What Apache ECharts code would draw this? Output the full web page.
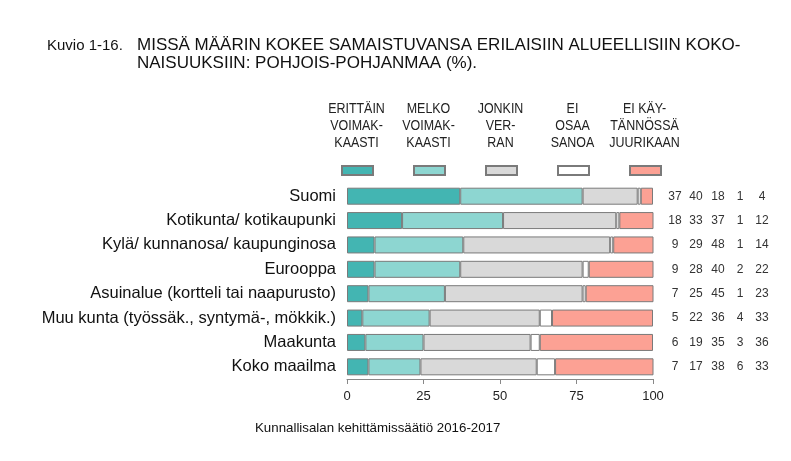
<!DOCTYPE html>
<html><head><meta charset="utf-8">
<script src="https://cdn.jsdelivr.net/npm/echarts@6/dist/echarts.min.js"></script>
<style>html,body{margin:0;padding:0;background:#fff}#c{width:791px;height:461px}</style>
</head><body><div id="c"></div>
<script>
const categories = ['Suomi','Kotikunta/ kotikaupunki','Kylä/ kunnanosa/ kaupunginosa','Eurooppa','Asuinalue (kortteli tai naapurusto)','Muu kunta (työssäk., syntymä-, mökkik.)','Maakunta','Koko maailma'];
// printed (rounded) percentages, shown in the value columns
const erittain = [37,18,9,9,7,5,6,7];
const melko = [40,33,29,28,25,22,19,17];
const jonkin = [18,37,48,40,45,36,35,38];
const eiOsaa = [1,1,1,2,1,4,3,6];
const eiKay = [4,12,14,22,23,33,36,33];
// last segment as drawn in the picture (Maakunta bar reaches 100 despite rounding)
const eiKayBar = [4,12,14,22,23,33,37,33];
const xTicks = [0,25,50,75,100];
const seriesNames = ['ERITTÄIN\nVOIMAK-\nKAASTI','MELKO\nVOIMAK-\nKAASTI','JONKIN\nVER-\nRAN','EI\nOSAA\nSANOA','EI KÄY-\nTÄNNÖSSÄ\nJUURIKAAN'];
const labelData = [erittain, melko, jonkin, eiOsaa, eiKay];
const barData = [erittain, melko, jonkin, eiOsaa, eiKayBar];
const colors = ['#43b5b2','#8dd6d1','#d9d9d9','#ffffff','#fca194'];

const FONT = 'Liberation Sans, Arial, sans-serif';
const legendLeft = 336, legendPad = 5, legendItemW = 31, legendGap = 39;
const legendStep = 72;

const chart = echarts.init(document.getElementById('c'), null, {renderer:'canvas'});
const rich = {};
['c0','c1','c2','c3','c4'].forEach((k,i)=>{ rich[k] = {width: i===0?20:22, align:'center', fontSize:12, color:'#333', fontFamily:FONT}; });

const graphics = [
  {type:'text', left:47, top:38, style:{text:'Kuvio 1-16.', font:'15px '+FONT, fill:'#111'}},
  {type:'text', left:137, top:36, style:{text:'MISSÄ MÄÄRIN KOKEE SAMAISTUVANSA ERILAISIIN ALUEELLISIIN KOKO-\nNAISUUKSIIN: POHJOIS-POHJANMAA (%).', font:'17px '+FONT, fill:'#111', lineHeight:18}},
  {type:'text', left:255, top:422, style:{text:'Kunnallisalan kehittämissäätiö 2016-2017', font:'13.3px '+FONT, fill:'#111'}}
];
seriesNames.forEach((n,i)=>{
  graphics.push({type:'text', x: legendLeft + legendPad + legendItemW/2 + i*legendStep, y:100, scaleX:0.83,
    style:{text:n, font:'15px '+FONT, fill:'#222', align:'center', verticalAlign:'top', lineHeight:17}});
});

chart.setOption({
  animation:false,
  graphic: graphics,
  legend: {
    data: seriesNames, left: legendLeft, top: 160, padding: legendPad, itemWidth: legendItemW, itemHeight: 9,
    itemGap: legendGap, formatter: () => '', icon:'rect', selectedMode:false
  },
  grid: {left:347, right:138, top:184, bottom:82, containLabel:false},
  xAxis: {
    type:'value', min:0, max:100, interval:25,
    axisLine:{show:true, lineStyle:{color:'#888'}},
    axisTick:{show:true, length:5, lineStyle:{color:'#888'}},
    splitLine:{show:false},
    axisLabel:{fontSize:13, color:'#222', fontFamily:FONT, margin:11,
      formatter: v => xTicks.includes(v) ? String(v) : ''}
  },
  yAxis: [
    {type:'category', data:categories, inverse:true, axisLine:{show:false}, axisTick:{show:false},
     axisLabel:{fontSize:16.5, color:'#111', fontFamily:FONT, margin:11}},
    {type:'category', data:categories, inverse:true, position:'right', axisLine:{show:false}, axisTick:{show:false},
     axisLabel:{margin:12, rich:rich, formatter:(v,idx)=>labelData.map((d,j)=>'{c'+j+'|'+d[idx]+'}').join('')}}
  ],
  series: seriesNames.map((n,i)=>({
    name:n, type:'bar', stack:'s', barWidth:17, data:barData[i],
    itemStyle:{color:colors[i], borderColor:'#7a7a7a', borderWidth:1}
  }))
});
</script></body></html>
